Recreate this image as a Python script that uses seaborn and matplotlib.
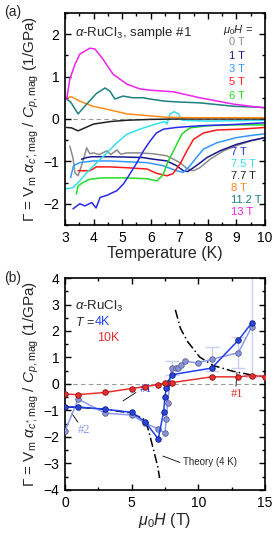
import numpy as np
import pandas as pd
import matplotlib
matplotlib.use("Agg")
import matplotlib.pyplot as plt
from matplotlib.ticker import MultipleLocator
import seaborn as sns

# ---- panel (a): Gruneisen ratio vs temperature, one curve per field ----
FIELDS = ['0 T', '1 T', '3 T', '5 T', '6 T', '7 T', '7.5 T', '7.7 T', '8 T', '11.2 T', '13 T']
COLORS = ['#8c8c8c', '#1a1a8c', '#3399ff', '#ff1a1a', '#22dd22', '#2a2aee',
          '#33e0ee', '#222222', '#ff8c1a', '#1a8080', '#ee22ee']

T_0 = [3.17, 3.28, 3.35, 3.46, 3.58, 3.7, 3.76, 3.87, 4.0, 4.2, 4.47, 4.6, 4.82, 4.95, 5.17, 5.6, 6.08, 6.57,
       6.68, 7.03, 7.27, 7.5, 7.72, 8.08, 8.55, 9.0, 9.5, 10.0]
G_0 = [-0.64, -0.91, -1.27, -1.34, -1.1, -0.83, -0.68, -0.82, -0.8, -0.84, -0.75, -0.84, -0.73, -0.83, -0.8,
       -0.8, -0.82, -0.87, -0.91, -1.03, -1.17, -1.22, -1.15, -0.95, -0.75, -0.63, -0.52, -0.44]
T_1 = [3.58, 3.76, 3.94, 4.57, 5.2, 5.73, 6.0, 6.57, 6.9, 7.14, 7.3, 7.6, 7.97, 8.43, 9.0, 9.5, 10.0]
G_1 = [-0.95, -0.91, -0.89, -0.89, -0.9, -0.91, -0.94, -0.99, -1.1, -1.22, -1.24, -1.1, -0.91, -0.75, -0.6,
       -0.51, -0.44]
T_3 = [3.2, 3.3, 3.52, 3.98, 4.6, 5.17, 5.87, 6.43, 6.9, 7.14, 7.38, 7.6, 7.85, 8.32, 9.0, 9.5, 10.0]
G_3 = [-1.38, -1.1, -1.03, -0.99, -0.99, -1.01, -1.03, -1.1, -1.22, -1.26, -1.1, -0.91, -0.71, -0.56, -0.44,
       -0.39, -0.35]
T_5 = [3.46, 3.87, 4.1, 4.57, 5.17, 5.87, 6.2, 6.57, 6.78, 7.03, 7.27, 7.5, 7.85, 8.32, 9.13, 10.0]
G_5 = [-1.22, -1.22, -1.13, -1.13, -1.15, -1.18, -1.28, -1.34, -1.29, -1.06, -0.75, -0.48, -0.33, -0.26,
       -0.24, -0.2]
T_6 = [3.4, 3.46, 3.63, 3.87, 4.33, 5.17, 5.87, 6.22, 6.43, 6.6, 6.85, 7.1, 7.38, 7.97, 9.0, 10.0]
G_6 = [-1.77, -1.58, -1.5, -1.42, -1.39, -1.39, -1.41, -1.46, -1.32, -1.02, -0.68, -0.35, -0.21, -0.16, -0.14,
       -0.14]
T_7 = [3.28, 3.52, 3.7, 3.94, 4.09, 4.23, 4.47, 4.82, 5.05, 5.28, 5.52, 5.75, 5.98, 6.2, 6.45, 6.9, 7.72,
       8.9, 10.0]
G_7 = [-2.12, -2.0, -2.05, -1.97, -2.1, -1.85, -1.8, -1.69, -1.53, -1.29, -1.03, -0.75, -0.52, -0.33, -0.24,
       -0.2, -0.16, -0.13, -0.09]
T_75 = [3.04, 3.28, 3.52, 3.76, 4.1, 4.47, 4.82, 5.17, 5.62, 6.08, 6.5, 6.57, 6.68, 6.82, 6.97, 7.1, 8.0,
        9.0, 10.0]
G_75 = [-1.65, -1.62, -1.46, -1.27, -1.04, -0.8, -0.56, -0.36, -0.24, -0.14, -0.06, -0.12, 0.12, 0.17, 0.12,
        -0.03, -0.05, -0.04, -0.03]
T_77 = [3.06, 3.23, 3.46, 3.63, 4.0, 4.6, 5.17, 6.0, 7.0, 8.0, 9.0, 10.0]
G_77 = [-0.2, -0.21, -0.28, -0.23, -0.12, -0.06, -0.03, -0.01, 0.0, 0.0, 0.0, 0.0]
T_8 = [3.0, 3.24, 3.52, 3.98, 4.47, 5.17, 5.87, 6.57, 7.5, 8.5, 10.0]
G_8 = [0.5, 0.52, 0.42, 0.3, 0.23, 0.12, 0.08, 0.04, 0.03, 0.03, 0.03]
T_112 = [3.06, 3.2, 3.46, 3.76, 4.1, 4.4, 4.57, 4.75, 5.03, 5.38, 5.72, 6.08, 6.5, 7.0, 7.72, 8.9, 10.0]
G_112 = [0.47, 0.4, 0.12, 0.35, 0.6, 0.73, 0.66, 0.47, 0.54, 0.5, 0.5, 0.46, 0.42, 0.4, 0.38, 0.3, 0.27]
T_13 = [3.06, 3.17, 3.35, 3.52, 3.87, 4.05, 4.33, 4.68, 5.17, 5.62, 5.97, 6.8, 7.72, 8.9, 10.0]
G_13 = [0.46, 0.94, 1.29, 1.53, 1.67, 1.65, 1.41, 1.06, 0.82, 0.71, 0.68, 0.64, 0.5, 0.35, 0.26]

CURVES_T = [T_0, T_1, T_3, T_5, T_6, T_7, T_75, T_77, T_8, T_112, T_13]
CURVES_G = [G_0, G_1, G_3, G_5, G_6, G_7, G_75, G_77, G_8, G_112, G_13]

# ---- panel (b): Gruneisen ratio vs field ----
H_10K = [0, 1, 3, 5, 6, 7, 7.5, 8, 11, 13, 14, 15]
G_10K = [-0.38, -0.4, -0.32, -0.17, -0.1, -0.02, 0.03, 0.05, 0.27, 0.27, 0.32, 0.28]
H_4K_1 = [0, 1, 3, 5, 6, 7, 7.4, 7.5, 7.6, 7.7, 8, 11, 13, 14]
G_4K_1 = [-0.87, -0.87, -0.95, -1.07, -1.42, -2.07, -1.05, -0.5, -0.15, 0.05, 0.35, 0.6, 1.65, 2.3]
H_4K_2 = [0, 1, 3, 5, 6, 7, 7.5, 7.6, 7.7, 8, 8.3, 8.5, 8.7, 9, 10, 11, 13, 14]
G_4K_2 = [-1.78, -0.57, -1.1, -1.17, -1.47, -1.7, -1.85, -1.32, -0.7, 0.6, 0.6, 0.6, 0.7, 0.85, 0.8, 0.93,
          1.18, 2.15]
ERR_H = [8, 11, 13, 14]
ERR_G = [0.6, 0.93, 1.18, 2.15]
ERR_DG = [0.27, 0.45, 0.58, 1.9]
TH_LO_H = [0, 1, 3, 5, 6, 6.3, 6.65, 6.95, 7.1]
TH_LO_G = [-0.87, -0.88, -0.95, -1.1, -1.35, -1.8, -2.5, -3.1, -3.55]
TH_HI_H = [8.28, 8.66, 9.2, 10.1, 11.1, 12.6, 14.1, 15]
TH_HI_G = [2.8, 2.1, 1.6, 1.02, 0.7, 0.48, 0.33, 0.27]

sns.set_theme(style="ticks")
plt.rcParams['font.family'] = ['Liberation Sans', 'DejaVu Sans']
plt.rcParams['mathtext.fontset'] = 'custom'
plt.rcParams['mathtext.rm'] = 'Liberation Sans'
plt.rcParams['mathtext.it'] = 'Liberation Sans:italic'
plt.rcParams['mathtext.bf'] = 'Liberation Sans:bold'
plt.rcParams['axes.linewidth'] = 1.2

fig = plt.figure(figsize=(2.74, 5.34), dpi=100)
ax1 = fig.add_axes([0.237, 0.5787, 0.73, 0.397])
ax2 = fig.add_axes([0.237, 0.0824, 0.73, 0.397])

YLAB = r'$\Gamma$ = V$_{\rm m}$ $\alpha_{c^{*}\!,{\rm mag}}$ / $C_{p,{\rm mag}}$ (1/GPa)'


def style_axis(ax, xmaj, xmin, ymaj, ymin):
    ax.xaxis.set_major_locator(MultipleLocator(xmaj))
    ax.xaxis.set_minor_locator(MultipleLocator(xmin))
    ax.yaxis.set_major_locator(MultipleLocator(ymaj))
    ax.yaxis.set_minor_locator(MultipleLocator(ymin))
    ax.tick_params(which='both', direction='in', top=True, right=True, width=1.0,
                   labelsize=10, colors='black', pad=4)
    ax.tick_params(which='major', length=4.5)
    ax.tick_params(which='minor', length=2.5)
    ax.axhline(0, color='#999999', lw=0.8, ls=(0, (4, 3)), zorder=0)
    for s in ax.spines.values():
        s.set_color('black')


# panel (a)
for t, g, c in zip(CURVES_T, CURVES_G, COLORS):
    sns.lineplot(x=t, y=g, ax=ax1, color=c, lw=1.1, sort=False, estimator=None)
ax1.set_xlim(3, 10)
ax1.set_ylim(-2.5, 2.5)
style_axis(ax1, 1, 0.5, 1, 0.5)
ax1.set_xlabel('Temperature (K)', fontsize=11.5, labelpad=1)
ax1.set_ylabel(YLAB, fontsize=11, labelpad=2)
ax1.text(0.05, 0.945, r'$\alpha$-RuCl$_3$, sample #1', transform=ax1.transAxes, fontsize=9.5, va='top')
ax1.text(0.79, 0.955, r'$\mu_0H$ =', transform=ax1.transAxes, fontsize=8, va='top')
for i, (lab, c) in enumerate(zip(FIELDS[:5], COLORS[:5])):
    ax1.text(0.82, 0.885 - i * 0.063, lab, transform=ax1.transAxes, fontsize=8, color=c, va='top')
for i, (lab, c) in enumerate(zip(FIELDS[5:], COLORS[5:])):
    ax1.text(0.83, 0.37 - i * 0.057, lab, transform=ax1.transAxes, fontsize=8, color=c, va='top')

# panel (b)
ax2.errorbar(ERR_H, ERR_G, yerr=ERR_DG, fmt='none', ecolor='#c8d0f4', elinewidth=1.0, capsize=5,
             capthick=1.0, zorder=1)
sns.lineplot(x=TH_LO_H, y=TH_LO_G, ax=ax2, color='black', lw=1.1, ls=(0, (6, 2, 1, 2)), sort=False,
             estimator=None, zorder=3)
sns.lineplot(x=TH_HI_H, y=TH_HI_G, ax=ax2, color='black', lw=1.1, ls=(0, (6, 2, 1, 2)), sort=False,
             estimator=None, zorder=3)
sns.lineplot(x=H_4K_2, y=G_4K_2, ax=ax2, color='#8a9bf0', lw=1.1, marker='o', ms=4, mfc='#8a96d8',
             mec='#5a6090', mew=0.6, sort=False, estimator=None, zorder=4)
sns.lineplot(x=H_4K_1, y=G_4K_1, ax=ax2, color='#2040ee', lw=1.1, marker='o', ms=4, mfc='#2a44e0',
             mec='#10207a', mew=0.6, sort=False, estimator=None, zorder=5)
sns.lineplot(x=H_10K, y=G_10K, ax=ax2, color='#e83030', lw=1.1, marker='o', ms=4, mfc='#e83030',
             mec='#901010', mew=0.6, sort=False, estimator=None, zorder=5)
ax2.set_xlim(0, 15)
ax2.set_ylim(-4, 4)
style_axis(ax2, 5, 2.5, 1, 0.5)
ax2.set_xlabel(r'$\mu_0H$ (T)', fontsize=11.5, labelpad=1)
ax2.set_ylabel(YLAB, fontsize=11, labelpad=2)
ax2.text(0.05, 0.9, r'$\alpha$-RuCl$_3$', transform=ax2.transAxes, fontsize=9.5, va='top')
ax2.text(0.05, 0.82, r'$T$ =', transform=ax2.transAxes, fontsize=9, va='top')
ax2.text(0.15, 0.82, '4K', transform=ax2.transAxes, fontsize=9, va='top', color='#2040ee')
ax2.text(0.16, 0.745, '10K', transform=ax2.transAxes, fontsize=9, va='top', color='#e83030')
ax2.text(0.375, 0.46, '#1', transform=ax2.transAxes, fontsize=9, color='#2040ee', family='Liberation Serif')
ax2.plot([0.29, 0.355], [0.42, 0.46], transform=ax2.transAxes, color='black', lw=0.6)
ax2.text(0.065, 0.27, '#2', transform=ax2.transAxes, fontsize=9, color='#8a9bf0', family='Liberation Serif')
ax2.plot([0.035, 0.065], [0.36, 0.32], transform=ax2.transAxes, color='black', lw=0.6)
ax2.text(0.83, 0.44, '#1', transform=ax2.transAxes, fontsize=9, color='#e83030', family='Liberation Serif')
ax2.plot([0.855, 0.86], [0.49, 0.555], transform=ax2.transAxes, color='black', lw=0.6)
ax2.text(0.59, 0.13, 'Theory (4 K)', transform=ax2.transAxes, fontsize=7, va='center')
ax2.plot([0.49, 0.575], [0.16, 0.13], transform=ax2.transAxes, color='black', lw=0.6)

fig.text(0.015, 0.99, '(a)', fontsize=10, va='top')
fig.text(0.015, 0.493, '(b)', fontsize=10, va='top')

fig.savefig('out.png', dpi=100)
